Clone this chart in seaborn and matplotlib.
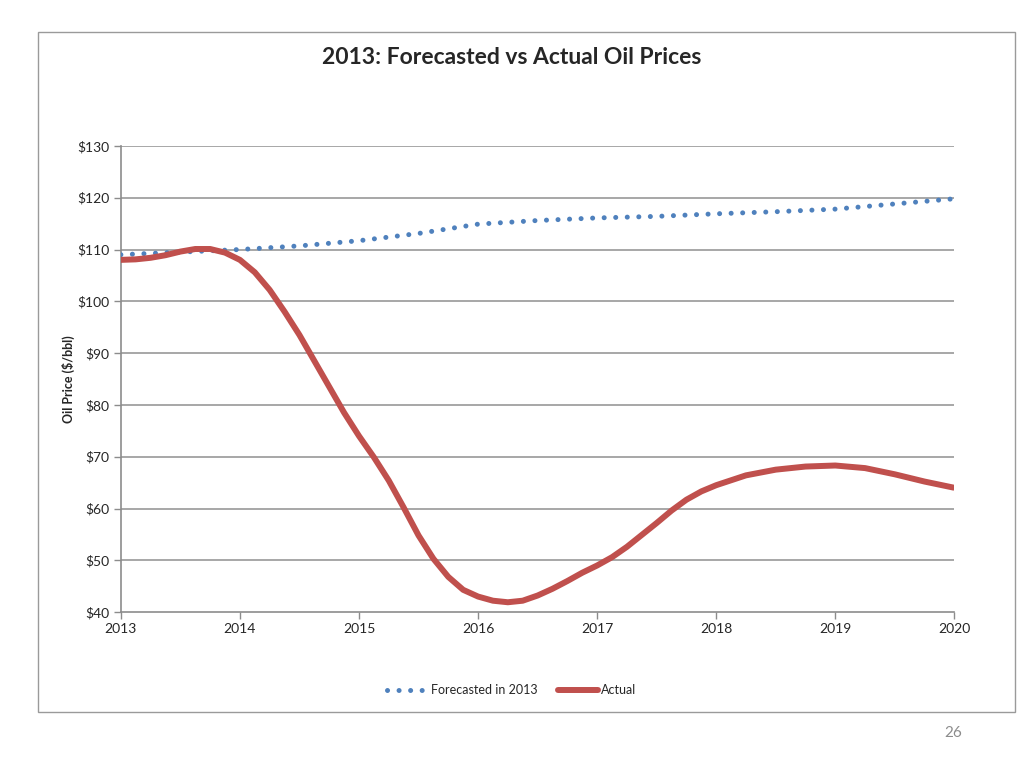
import matplotlib
matplotlib.use("Agg")
import matplotlib.pyplot as plt
import matplotlib.patches as mpatches
from matplotlib.lines import Line2D
import pandas as pd
import seaborn as sns

sns.set_theme(style="white")
plt.rcParams["font.family"] = ["Lato", "DejaVu Sans"]

# Values
forecast_years = [2013.0, 2013.5, 2014.0, 2014.5, 2015.0, 2015.5, 2016.0, 2016.5,
                  2017.0, 2017.5, 2018.0, 2018.5, 2019.0, 2019.5, 2020.0]
forecast_price = [109.0, 109.5, 110.0, 110.7, 111.7, 113.1, 114.9, 115.6,
                  116.1, 116.4, 116.9, 117.3, 117.8, 118.8, 119.8]

actual_years = [2013.0, 2013.125, 2013.25, 2013.375, 2013.5, 2013.625, 2013.75, 2013.875,
                2014.0, 2014.125, 2014.25, 2014.375, 2014.5, 2014.625, 2014.75, 2014.875,
                2015.0, 2015.125, 2015.25, 2015.375, 2015.5, 2015.625, 2015.75, 2015.875,
                2016.0, 2016.125, 2016.25, 2016.375, 2016.5, 2016.625, 2016.75, 2016.875,
                2017.0, 2017.125, 2017.25, 2017.375, 2017.5, 2017.625, 2017.75, 2017.875,
                2018.0, 2018.25, 2018.5, 2018.75, 2019.0, 2019.25, 2019.5, 2019.75, 2020.0]
actual_price = [108.0, 108.1, 108.4, 108.9, 109.6, 110.1, 110.1, 109.4,
                108.0, 105.6, 102.2, 98.0, 93.5, 88.5, 83.5, 78.5,
                74.0, 69.9, 65.4, 60.2, 54.8, 50.3, 46.8, 44.3,
                43.0, 42.2, 41.9, 42.2, 43.2, 44.5, 46.0, 47.6,
                49.0, 50.6, 52.6, 54.9, 57.2, 59.6, 61.7, 63.3,
                64.5, 66.4, 67.5, 68.1, 68.3, 67.8, 66.6, 65.2, 64.0]

year_ticks = [2013, 2014, 2015, 2016, 2017, 2018, 2019, 2020]
price_ticks = [40, 50, 60, 70, 80, 90, 100, 110, 120, 130]

BLUE = "#4F81BD"
RED = "#C0504D"
GRID = "#A0A0A0"
DOTS = (0, (0.01, 2.3))

df_fc = pd.DataFrame({"year": forecast_years, "price": forecast_price})
df_act = pd.DataFrame({"year": actual_years, "price": actual_price})

fig = plt.figure(figsize=(10.24, 7.68), dpi=100)
ax = fig.add_axes([0.118, 0.203, 0.814, 0.607])

# outer frame of the chart object
fig.patches.append(mpatches.Rectangle((38 / 1024, 1 - 712 / 768), 977 / 1024, 680 / 768,
                                      transform=fig.transFigure, fill=False,
                                      edgecolor="#9A9A9A", linewidth=1.0))

sns.lineplot(data=df_fc, x="year", y="price", ax=ax, color=BLUE, linewidth=3.6,
             linestyle=DOTS, dash_capstyle="round", zorder=3)
sns.lineplot(data=df_act, x="year", y="price", ax=ax, color=RED, linewidth=4.3,
             solid_capstyle="butt", solid_joinstyle="round", zorder=4)

ax.set_xlim(2013, 2020)
ax.set_ylim(40, 130)
ax.set_xticks(year_ticks)
ax.set_xticklabels([str(y) for y in year_ticks], fontsize=10)
ax.set_yticks(price_ticks)
ax.set_yticklabels([f"${p}" for p in price_ticks], fontsize=10)

for p in price_ticks[1:]:
    ax.axhline(p, color=GRID, linewidth=1.3, zorder=1)

for side in ["top", "right"]:
    ax.spines[side].set_visible(False)
for side in ["left", "bottom"]:
    ax.spines[side].set_color("#8C8C8C")
    ax.spines[side].set_linewidth(1.2)

ax.tick_params(axis="both", direction="out", length=5, width=1, color="#8C8C8C",
               left=True, bottom=True, pad=3)
ax.set_xlabel("")
ax.set_ylabel("Oil Price ($/bbl)", fontsize=9, fontweight="bold", labelpad=2)

fig.text(0.5, 1 - 58 / 768, "2013: Forecasted vs Actual Oil Prices", ha="center",
         va="center", fontsize=16.5, fontweight="bold")

handles = [
    Line2D([], [], color=BLUE, linewidth=3.6, linestyle=DOTS,
           dash_capstyle="round", label="Forecasted in 2013"),
    Line2D([], [], color=RED, linewidth=4.3, label="Actual"),
]
fig.legend(handles=handles, loc="center", bbox_to_anchor=(0.5, 1 - 690 / 768), ncol=2,
           frameon=False, fontsize=9, handlelength=3.2, handletextpad=0.3,
           columnspacing=1.6)

fig.text(953 / 1024, 1 - 733 / 768, "26", ha="center", va="center", fontsize=11,
         color="#8C8C8C")

fig.savefig("out.png", dpi=100, facecolor="white")
